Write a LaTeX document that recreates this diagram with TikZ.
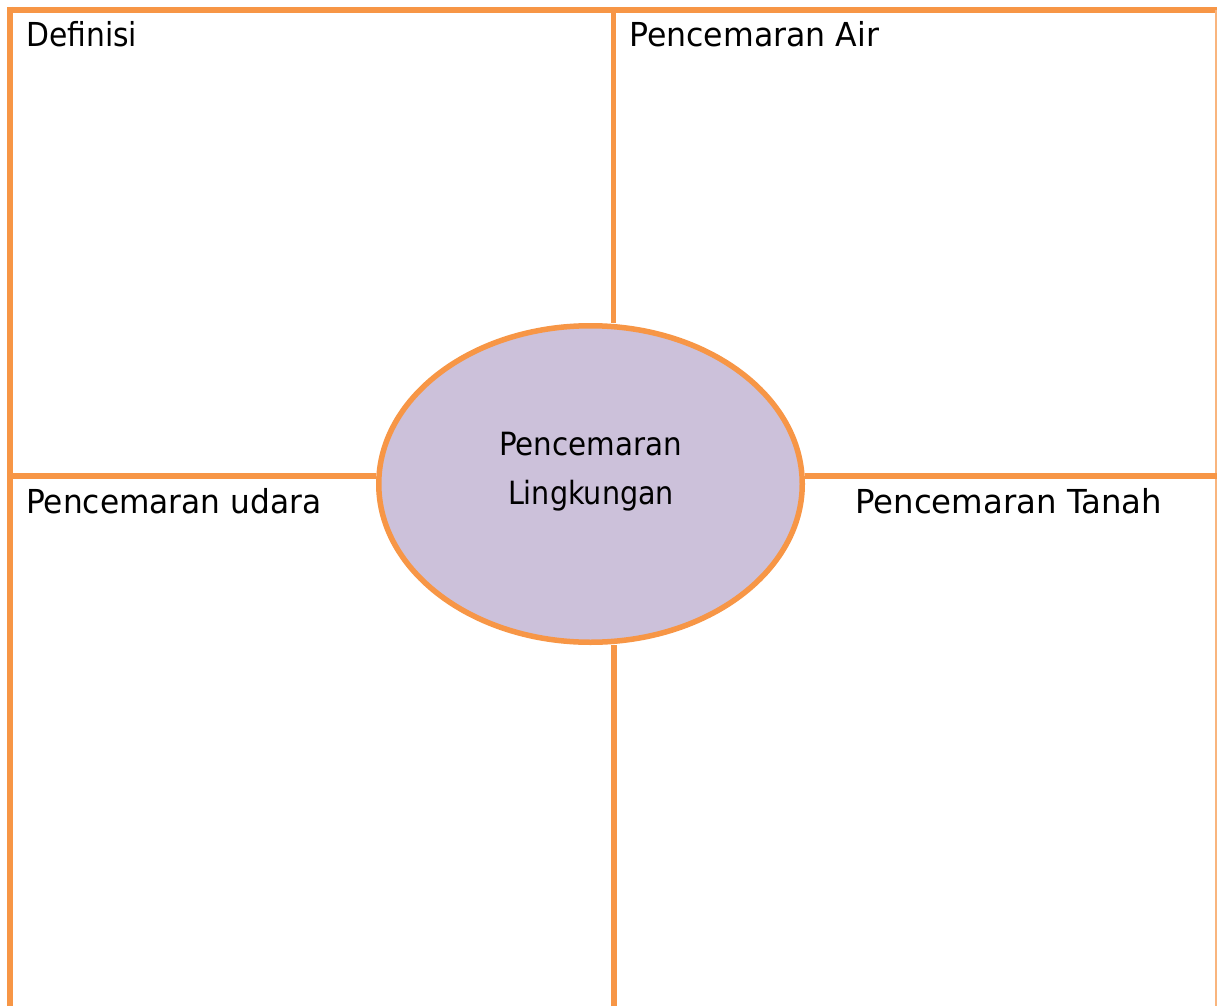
\documentclass[tikz,border=0pt]{standalone}
\usepackage{fontspec}
\setmainfont{DejaVu Sans}
\usetikzlibrary{shapes.geometric}
\definecolor{frameorange}{HTML}{F79646}
\definecolor{lavender}{HTML}{CCC1DA}
\newcommand{\fitw}[2]{\resizebox{#1pt}{\height}{#2}}
\begin{document}
\begin{tikzpicture}[x=1pt,y=-1pt,
  frame/.style={draw=frameorange,line width=6pt,line cap=butt},
  inner/.style={draw=frameorange,line width=5.5pt,line cap=butt},
  label/.style={inner sep=0pt,anchor=base west,font=\fontsize{33}{40}\selectfont,text=black},
  clabel/.style={inner sep=0pt,anchor=base,font=\fontsize{32}{38}\selectfont,text=black}]
\useasboundingbox (0,0) rectangle (1217,1006);
\fill[white] (0,0) rectangle (1217,1006);
% frame coordinates
\coordinate (tl) at (7,10);
\coordinate (tr) at (1217,10);
\coordinate (lt) at (10,7);
\coordinate (lb) at (10,1006);
\coordinate (rt) at (1216,10);
\coordinate (rb) at (1216,1006);
\coordinate (vt) at (613.5,10);
\coordinate (vb) at (614,1006);
\coordinate (hl) at (10,476);
\coordinate (hr) at (1217,476);
% central ellipse
\node[ellipse,draw=frameorange,fill=lavender,line width=5.5pt,
      minimum width=423.5pt,minimum height=316.5pt,inner sep=0pt] (center) at (590.5,484) {};
% outer frame
\draw[frame] (tl) -- (tr);
\draw[frame] (lt) -- (lb);
\draw[draw=frameorange!70,line width=1.5pt] (rt) -- (rb);
% inner dividing lines
\draw[inner] (vt) -- (vt |- center.north);
\draw[inner] (vb) -- (vb |- center.south);
\draw[inner] (hl) -- (center.west |- hl);
\draw[inner] (center.east |- hr) -- (hr);
% labels
\node[label] (def) at (26,47) {\fitw{111}{Definisi}};
\node[label] (air) at (629,47) {\fitw{250}{Pencemaran Air}};
\node[label] (udara) at (26,513) {\fitw{295}{Pencemaran udara}};
\node[label] (tanah) at (855,513) {\fitw{307}{Pencemaran Tanah}};
\node[clabel] (c1) at (590.5,455) {\fitw{183}{Pencemaran}};
\node[clabel] (c2) at (591,504) {\fitw{166}{Lingkungan}};
\end{tikzpicture}
\end{document}
